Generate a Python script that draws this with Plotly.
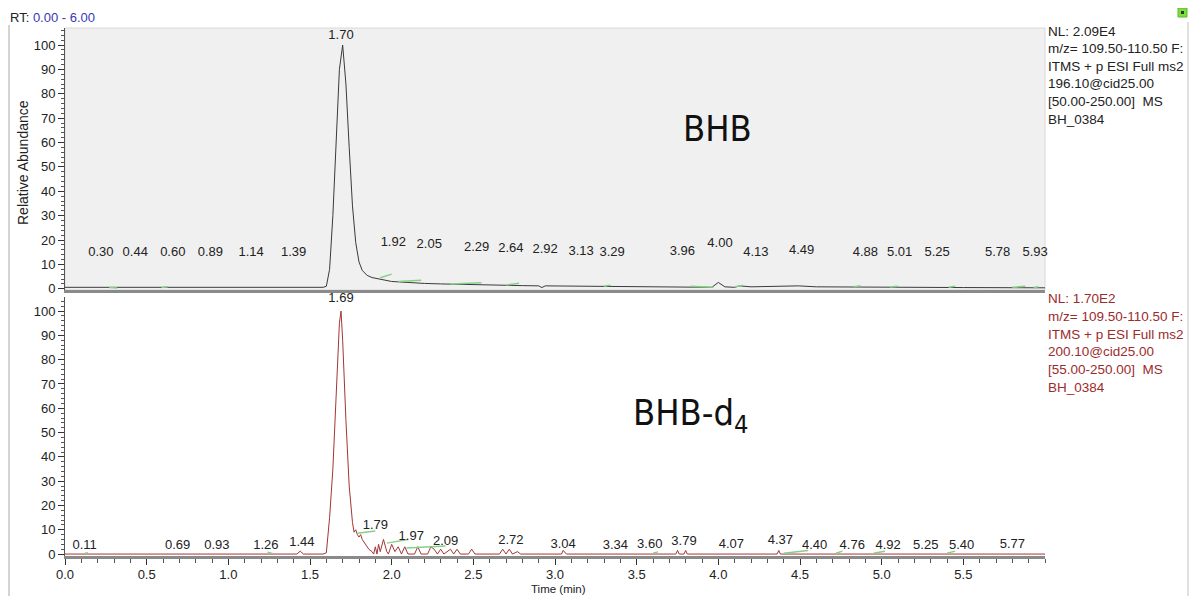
import plotly.graph_objects as go

# ---------------- data ----------------
# top chromatogram (BHB)
top_t = [0.00, 0.30, 0.60, 1.00, 1.40, 1.58, 1.60, 1.62, 1.64, 1.66, 1.68, 1.70, 1.72, 1.74, 1.76,
         1.78, 1.80, 1.82, 1.85, 1.88, 1.92, 1.96, 2.00, 2.05, 2.10, 2.20, 2.30, 2.40, 2.50, 2.64,
         2.80, 2.90, 2.92, 2.94, 3.10, 3.30, 3.60, 3.90, 3.96, 4.00, 4.04, 4.10, 4.13, 4.20, 4.40,
         4.49, 4.60, 4.80, 5.00, 5.50, 6.00]
top_y = [0.6, 0.6, 0.6, 0.6, 0.6, 0.6, 1.0, 8.0, 30.0, 62.0, 90.0, 100.0, 84.0, 58.0, 34.0,
         19.0, 11.0, 7.5, 5.5, 4.6, 4.0, 3.5, 3.0, 2.8, 2.5, 2.2, 2.0, 1.8, 1.6, 1.5,
         1.3, 1.2, 0.5, 1.2, 1.1, 1.0, 0.9, 0.8, 0.6, 2.6, 0.8, 0.6, 1.2, 0.8, 1.0,
         1.2, 0.8, 0.7, 0.6, 0.5, 0.4]

# bottom chromatogram (BHB-d4)
bot_t = [0.00, 1.42, 1.44, 1.46, 1.58, 1.60, 1.62, 1.64, 1.66, 1.68, 1.69, 1.70, 1.72, 1.74, 1.76,
         1.77, 1.78, 1.79, 1.80, 1.81, 1.82, 1.84, 1.86, 1.88, 1.89, 1.90, 1.91, 1.92, 1.93, 1.95,
         1.97, 1.98, 2.00, 2.02, 2.04, 2.06, 2.08, 2.10, 2.14, 2.16, 2.18, 2.22, 2.24, 2.26, 2.28,
         2.30, 2.32, 2.36, 2.38, 2.40, 2.42, 2.47, 2.49, 2.51, 2.66, 2.68, 2.70, 2.72, 2.74, 2.77,
         2.79, 3.04, 3.05, 3.07, 3.74, 3.75, 3.76, 3.79, 3.80, 3.81, 4.36, 4.37, 4.38, 6.00]
bot_y = [0.0, 0.0, 1.2, 0.0, 0.0, 0.5, 15.0, 35.0, 65.0, 95.0, 100.0, 88.0, 55.0, 28.0, 13.0,
         9.0, 10.0, 8.0, 7.0, 8.0, 6.0, 4.0, 2.0, 1.0, 0.0, 3.0, 0.0, 4.0, 1.0, 6.0,
         1.0, 0.0, 4.0, 1.0, 3.0, 0.0, 3.0, 0.0, 0.0, 3.0, 0.0, 0.0, 3.0, 2.0, 0.0,
         2.0, 0.0, 2.0, 0.0, 2.0, 0.0, 0.0, 2.0, 0.0, 0.0, 2.0, 0.0, 2.0, 0.0, 1.0,
         0.0, 0.0, 1.5, 0.0, 0.0, 1.5, 0.0, 0.0, 1.5, 0.0, 0.0, 1.5, 0.0, 0.0]

# integration baselines (start t, end t, start y, end y)
top_base_t0 = [0.27, 0.59, 1.93, 2.04, 2.36, 2.70, 3.30, 3.83, 4.10, 4.83, 5.05, 5.41, 5.80, 5.93]
top_base_t1 = [0.32, 0.63, 2.00, 2.18, 2.55, 2.78, 3.34, 3.97, 4.15, 4.87, 5.10, 5.45, 5.88, 5.96]
top_base_y0 = [0.5, 0.5, 4.5, 3.0, 2.0, 1.5, 1.0, 1.0, 0.8, 0.8, 0.7, 0.6, 0.6, 0.5]
top_base_y1 = [0.3, 0.8, 6.0, 3.5, 2.5, 2.3, 1.5, 0.6, 1.4, 1.2, 1.0, 1.0, 1.0, 0.8]

bot_base_t0 = [0.12, 1.24, 1.79, 1.97, 2.09, 3.60, 4.40, 4.72, 4.95, 5.40]
bot_base_t1 = [0.14, 1.27, 1.90, 2.10, 2.33, 3.63, 4.55, 4.76, 5.02, 5.45]
bot_base_y0 = [0.2, 0.8, 8.6, 4.5, 2.5, 0.3, 0.3, 0.3, 0.3, 0.3]
bot_base_y1 = [0.6, 0.2, 9.5, 6.0, 3.3, 0.9, 1.5, 1.2, 1.2, 1.2]

# peak labels
top_lbl = ["0.30", "0.44", "0.60", "0.89", "1.14", "1.39", "1.70", "1.92", "2.05", "2.29", "2.64",
           "2.92", "3.13", "3.29", "3.96", "4.00", "4.13", "4.49", "4.88", "5.01", "5.25", "5.78", "5.93"]
top_lbl_x = [0.22, 0.43, 0.66, 0.89, 1.14, 1.40, 1.69, 2.01, 2.23, 2.52, 2.73,
             2.94, 3.16, 3.35, 3.78, 4.01, 4.23, 4.51, 4.90, 5.11, 5.34, 5.71, 5.94]
top_lbl_y = [14.8, 14.8, 14.8, 14.8, 14.8, 14.8, 104.0, 18.9, 18.0, 16.8, 16.4,
             16.0, 15.2, 14.8, 15.0, 18.4, 14.8, 15.6, 14.8, 14.8, 14.8, 14.8, 14.8]

bot_lbl = ["0.11", "0.69", "0.93", "1.26", "1.44", "1.69", "1.79", "1.97", "2.09", "2.72", "3.04",
           "3.34", "3.60", "3.79", "4.07", "4.37", "4.40", "4.76", "4.92", "5.25", "5.40", "5.77"]
bot_lbl_x = [0.12, 0.69, 0.93, 1.23, 1.45, 1.69, 1.90, 2.12, 2.33, 2.73, 3.05,
             3.37, 3.58, 3.79, 4.08, 4.38, 4.59, 4.82, 5.04, 5.27, 5.49, 5.80]
bot_lbl_y = [3.3, 3.3, 3.3, 3.3, 4.5, 105.0, 11.5, 7.0, 5.0, 5.3, 3.7,
             3.3, 3.7, 5.0, 3.7, 5.3, 3.3, 3.3, 3.3, 3.3, 3.3, 3.7]

top_info = ["NL: 2.09E4", "m/z= 109.50-110.50 F:", "ITMS + p ESI Full ms2",
            "196.10@cid25.00", "[50.00-250.00]  MS", "BH_0384"]
bot_info = ["NL: 1.70E2", "m/z= 109.50-110.50 F:", "ITMS + p ESI Full ms2",
            "200.10@cid25.00", "[55.00-250.00]  MS", "BH_0384"]

x_ticks = [0.0, 0.5, 1.0, 1.5, 2.0, 2.5, 3.0, 3.5, 4.0, 4.5, 5.0, 5.5]
y_ticks = [0, 10, 20, 30, 40, 50, 60, 70, 80, 90, 100]

# ---------------- figure ----------------
OFF = 8                      # page body margin
W, H = 1197 - 2 * OFF, 604 - 2 * OFF
# plot area in page pixels: x 65..1045, y 28..556
ML = 65 - OFF
MT = 28 - OFF
MR = W - (1045 - OFF)
MB = H - (556 - OFF)
FONT = "Liberation Sans, Arial, sans-serif"
TOP_COL = "#3a3a3a"
BOT_COL = "#a33535"
GREEN = "#86d086"


def py2paper(py):
    return (H - MB - (py - OFF)) / (H - MT - MB)


def px2paper(px):
    return ((px - OFF) - ML) / (W - ML - MR)


def seg(t0, t1, y0, y1):
    xs, ys = [], []
    for a, b, c, d in zip(t0, t1, y0, y1):
        xs += [a, b, None]
        ys += [c, d, None]
    return xs, ys


fig = go.Figure()

fig.add_trace(go.Scatter(x=top_t, y=top_y, mode="lines", line=dict(color=TOP_COL, width=1),
                         xaxis="x", yaxis="y", showlegend=False))
gx, gy = seg(top_base_t0, top_base_t1, top_base_y0, top_base_y1)
fig.add_trace(go.Scatter(x=gx, y=gy, mode="lines", line=dict(color=GREEN, width=1.5),
                         xaxis="x", yaxis="y", showlegend=False))
fig.add_trace(go.Scatter(x=top_lbl_x, y=top_lbl_y, text=top_lbl, mode="text",
                         textfont=dict(family=FONT, size=13, color="#222"),
                         xaxis="x", yaxis="y", showlegend=False, cliponaxis=False))

fig.add_trace(go.Scatter(x=bot_t, y=bot_y, mode="lines", line=dict(color=BOT_COL, width=1),
                         xaxis="x2", yaxis="y2", showlegend=False))
gx, gy = seg(bot_base_t0, bot_base_t1, bot_base_y0, bot_base_y1)
fig.add_trace(go.Scatter(x=gx, y=gy, mode="lines", line=dict(color=GREEN, width=1.5),
                         xaxis="x2", yaxis="y2", showlegend=False))
fig.add_trace(go.Scatter(x=bot_lbl_x, y=bot_lbl_y, text=bot_lbl, mode="text",
                         textfont=dict(family=FONT, size=13, color="#222"),
                         xaxis="x2", yaxis="y2", showlegend=False, cliponaxis=False))

yax_common = dict(tickvals=y_ticks, ticks="outside", ticklen=6, tickcolor="#333",
                  showline=True, linecolor="#555", linewidth=1, showgrid=False, zeroline=False,
                  automargin=False,
                  tickfont=dict(family=FONT, size=13, color="#222"),
                  minor=dict(dtick=2, ticks="outside", ticklen=3, tickcolor="#555"))

fig.update_layout(
    width=W, height=H,
    margin=dict(l=ML, r=MR, t=MT, b=MB, autoexpand=False),
    paper_bgcolor="white", plot_bgcolor="white",
    font=dict(family=FONT, size=13, color="#222"),
    xaxis=dict(domain=[0, 1], anchor="y", range=[0, 6], matches="x2", showticklabels=False,
               ticks="", showline=True, linecolor="#8a8a8a", linewidth=3, showgrid=False,
               zeroline=False, automargin=False),
    yaxis={**yax_common, "domain": [py2paper(290), 1], "anchor": "x", "range": [-0.5, 107]},
    xaxis2=dict(domain=[0, 1], anchor="y2", range=[0, 6], tickvals=x_ticks,
                tickformat=".1f", ticks="outside", ticklen=6, tickcolor="#333",
                showline=True, linecolor="#8a8a8a", linewidth=3, showgrid=False, zeroline=False,
                automargin=False, ticklabelstandoff=-2,
                tickfont=dict(family=FONT, size=13, color="#222"),
                minor=dict(dtick=0.1, ticks="outside", ticklen=4, tickcolor="#555")),
    yaxis2={**yax_common, "domain": [0, py2paper(297)], "anchor": "x2", "range": [-0.8, 105.8]},
)

# panel background for top chromatogram
fig.add_shape(type="rect", xref="x domain", yref="y domain", x0=0, x1=1, y0=0, y1=1,
              fillcolor="#f0f0f0", line=dict(color="#d8d8d8", width=1), layer="below")

# outer frame lines
fig.add_shape(type="line", xref="paper", yref="paper", x0=px2paper(9), x1=px2paper(9),
              y0=py2paper(25), y1=py2paper(604), line=dict(color="#d4d4d4", width=2))
fig.add_shape(type="line", xref="paper", yref="paper", x0=px2paper(1188), x1=px2paper(1188),
              y0=py2paper(22), y1=py2paper(604), line=dict(color="#e0e0e0", width=2))
# small status icon
fig.add_shape(type="rect", xref="paper", yref="paper", x0=px2paper(1178), x1=px2paper(1187),
              y0=py2paper(8), y1=py2paper(17), fillcolor="#7be03a", line=dict(color="#5cb82a", width=1))
fig.add_shape(type="rect", xref="paper", yref="paper", x0=px2paper(1181), x1=px2paper(1184),
              y0=py2paper(11), y1=py2paper(14), fillcolor="#333", line=dict(width=0))

ann = []
ann.append(dict(text="RT: <span style='color:#3838b8'>0.00 - 6.00</span>", xref="paper", yref="paper",
                x=px2paper(8), y=py2paper(18), xanchor="left", yanchor="middle", showarrow=False,
                font=dict(family=FONT, size=13, color="#222")))
ann.append(dict(text="Relative Abundance", xref="paper", yref="paper", textangle=-90,
                x=px2paper(23), y=py2paper(163), xanchor="center", yanchor="middle", showarrow=False,
                font=dict(family=FONT, size=14, color="#222")))
ann.append(dict(text="Time (min)", xref="paper", yref="paper",
                x=px2paper(558), y=py2paper(596.5), xanchor="center", yanchor="bottom", showarrow=False,
                font=dict(family=FONT, size=11.5, color="#222")))
for i, s in enumerate(top_info):
    ann.append(dict(text=s, xref="paper", yref="paper", x=px2paper(1046), y=py2paper(31 + 17.6 * i),
                    xanchor="left", yanchor="middle", showarrow=False,
                    font=dict(family=FONT, size=13.5, color="#222")))
for i, s in enumerate(bot_info):
    ann.append(dict(text=s, xref="paper", yref="paper", x=px2paper(1046), y=py2paper(299 + 17.6 * i),
                    xanchor="left", yanchor="middle", showarrow=False,
                    font=dict(family=FONT, size=13.5, color="#9b2c2c")))
BIG = "DejaVu Sans Condensed, Liberation Sans Narrow, Arial Narrow, sans-serif"
ann.append(dict(text="BHB", xref="paper", yref="paper", x=px2paper(717), y=py2paper(128),
                xanchor="center", yanchor="middle", showarrow=False,
                font=dict(family=BIG, size=36, color="#111")))
ann.append(dict(text="BHB-d<sub>4</sub>", xref="paper", yref="paper", x=px2paper(690), y=py2paper(415),
                xanchor="center", yanchor="middle", showarrow=False,
                font=dict(family=BIG, size=36, color="#111")))
fig.update_layout(annotations=ann)

fig.write_html("out.html")
